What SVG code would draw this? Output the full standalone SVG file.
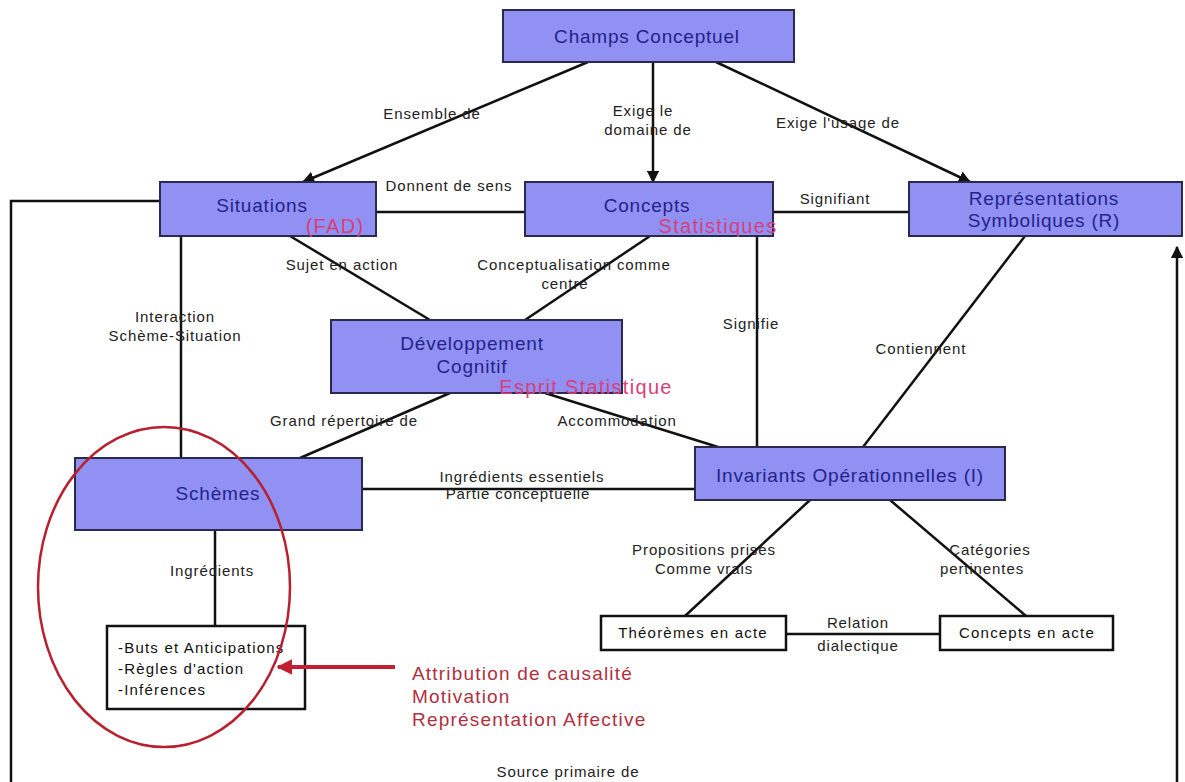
<svg xmlns="http://www.w3.org/2000/svg" width="1185" height="782" viewBox="0 0 1185 782">
<style>
.box{fill:#9191f3;stroke:#2a2a50;stroke-width:2}
.wbox{fill:#ffffff;stroke:#111;stroke-width:2.5}
.nt{font-family:"Liberation Sans",Arial,sans-serif;font-size:19px;letter-spacing:0.8px;fill:#23238a;text-anchor:middle}
.bt{font-family:"Liberation Sans",Arial,sans-serif;font-size:15px;letter-spacing:1.2px;fill:#111;text-anchor:middle}
.lt{font-family:"Liberation Sans",Arial,sans-serif;font-size:15px;letter-spacing:0.9px;fill:#222;text-anchor:middle}
.pk{font-family:"Liberation Sans",Arial,sans-serif;font-size:20px;letter-spacing:1.3px;fill:#d8407a;text-anchor:middle}
.rd{font-family:"Liberation Sans",Arial,sans-serif;font-size:19px;letter-spacing:1.2px;fill:#b03040}
.ln{stroke:#111;stroke-width:2.5;fill:none}
</style>
<defs>
<marker id="ah" viewBox="0 0 10 10" refX="9" refY="5" markerWidth="5" markerHeight="5" orient="auto"><path d="M0,0 L10,5 L0,10 z" fill="#111"/></marker>
<marker id="rah" viewBox="0 0 10 10" refX="9" refY="5" markerWidth="4" markerHeight="4" orient="auto"><path d="M0,0 L10,5 L0,10 z" fill="#c02030"/></marker>
</defs>
<rect width="1185" height="782" fill="#ffffff"/>
<g id="connectors">
<line class="ln" x1="588" y1="62" x2="303" y2="182" marker-end="url(#ah)"/>
<line class="ln" x1="653" y1="62" x2="653" y2="182" marker-end="url(#ah)"/>
<line class="ln" x1="716" y1="62" x2="970" y2="182" marker-end="url(#ah)"/>
<line class="ln" x1="376" y1="212" x2="525" y2="212" stroke-width="2"/>
<line class="ln" x1="773" y1="212" x2="909" y2="212" stroke-width="2"/>
<polyline class="ln" points="160,201 11,201 11,782" stroke-width="2"/>
<line class="ln" x1="1177" y1="782" x2="1177" y2="247" marker-end="url(#ah)"/>
<line class="ln" x1="290" y1="236" x2="430" y2="320" stroke-width="2"/>
<line class="ln" x1="650" y1="236" x2="525" y2="320" stroke-width="2"/>
<line class="ln" x1="181" y1="236" x2="181" y2="458" stroke-width="2"/>
<line class="ln" x1="757" y1="236" x2="757" y2="447"/>
<line class="ln" x1="1025" y1="236" x2="863" y2="447" stroke-width="2"/>
<line class="ln" x1="450" y1="393" x2="300" y2="458" stroke-width="2"/>
<line class="ln" x1="545" y1="393" x2="718" y2="447" stroke-width="2"/>
<line class="ln" x1="362" y1="489" x2="695" y2="489"/>
<line class="ln" x1="215" y1="530" x2="215" y2="626"/>
<line class="ln" x1="810" y1="500" x2="685" y2="616" stroke-width="2"/>
<line class="ln" x1="890" y1="500" x2="1026" y2="616" stroke-width="2"/>
<line class="ln" x1="786" y1="634" x2="940" y2="634"/>
</g>
<g id="labels">
<text class="lt" x="432" y="119">Ensemble de</text>
<text class="lt" x="643" y="116">Exige le</text>
<text class="lt" x="648" y="135">domaine de</text>
<text class="lt" x="838" y="128">Exige l'usage de</text>
<text class="lt" x="449" y="191">Donnent de sens</text>
<text class="lt" x="835" y="204">Signifiant</text>
<text class="lt" x="342" y="270">Sujet en action</text>
<text class="lt" x="574" y="270">Conceptualisation comme</text>
<text class="lt" x="565" y="289">centre</text>
<text class="lt" x="175" y="322">Interaction</text>
<text class="lt" x="175" y="341">Schème-Situation</text>
<text class="lt" x="751" y="329">Signifie</text>
<text class="lt" x="921" y="354">Contiennent</text>
<text class="lt" x="344" y="426">Grand répertoire de</text>
<text class="lt" x="617" y="426">Accommodation</text>
<text class="lt" x="522" y="482">Ingrédients essentiels</text>
<text class="lt" x="518" y="499">Partie conceptuelle</text>
<text class="lt" x="212" y="576">Ingrédients</text>
<text class="lt" x="704" y="555">Propositions prises</text>
<text class="lt" x="704" y="574">Comme vrais</text>
<text class="lt" x="990" y="555">Catégories</text>
<text class="lt" x="982" y="574">pertinentes</text>
<text class="lt" x="858" y="628">Relation</text>
<text class="lt" x="858" y="651">dialectique</text>
<text class="lt" x="568" y="777">Source primaire de</text>
</g>
<g id="champs"><rect class="box" x="503" y="10" width="291" height="52"/><text class="nt" x="647" y="43">Champs Conceptuel</text></g>
<g id="situations"><rect class="box" x="160" y="182" width="216" height="54"/><text class="nt" x="262" y="212">Situations</text><text class="pk" x="335" y="233">(FAD)</text></g>
<g id="concepts"><rect class="box" x="525" y="182" width="248" height="54"/><text class="nt" x="647" y="212">Concepts</text><text class="pk" x="718" y="233">Statistiques</text></g>
<g id="representations"><rect class="box" x="909" y="182" width="273" height="54"/><text class="nt" x="1044" y="205">Représentations</text><text class="nt" x="1044" y="227">Symboliques (R)</text></g>
<g id="developpement"><rect class="box" x="331" y="320" width="291" height="73"/><text class="nt" x="472" y="350">Développement</text><text class="nt" x="472" y="373">Cognitif</text><text class="pk" x="586" y="394">Esprit Statistique</text></g>
<g id="schemes"><rect class="box" x="75" y="458" width="287" height="72"/><text class="nt" x="218" y="500">Schèmes</text></g>
<g id="invariants"><rect class="box" x="695" y="447" width="310" height="53"/><text class="nt" x="850" y="482">Invariants Opérationnelles (I)</text></g>
<g id="theoremes"><rect class="wbox" x="601" y="616" width="185" height="34"/><text class="bt" x="693" y="638">Théorèmes en acte</text></g>
<g id="concepts-acte"><rect class="wbox" x="940" y="616" width="173" height="34"/><text class="bt" x="1027" y="638">Concepts en acte</text></g>
<g id="buts"><rect class="wbox" x="107" y="626" width="198" height="83"/>
<text class="bt" x="118" y="653" style="text-anchor:start">-Buts et Anticipations</text>
<text class="bt" x="118" y="674" style="text-anchor:start">-Règles d'action</text>
<text class="bt" x="118" y="695" style="text-anchor:start">-Inférences</text></g>
<g id="red-arrow"><line x1="395" y1="667" x2="278" y2="667" stroke="#c02030" stroke-width="4" marker-end="url(#rah)"/></g>
<g id="facteurs">
<text class="rd" x="412" y="680">Attribution de causalité</text>
<text class="rd" x="412" y="703">Motivation</text>
<text class="rd" x="412" y="726">Représentation Affective</text>
</g>
<g id="ellipse"><ellipse cx="164" cy="587" rx="126" ry="160" fill="none" stroke="#b8202e" stroke-width="2.5"/></g>
</svg>
